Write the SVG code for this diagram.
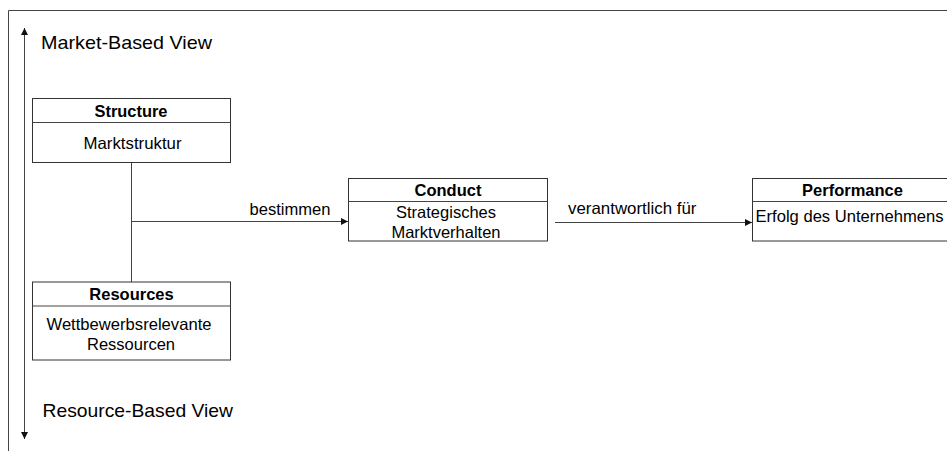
<svg xmlns="http://www.w3.org/2000/svg" width="947" height="451" viewBox="0 0 947 451">
<defs>
<style>
text{font-family:"Liberation Sans",Arial,sans-serif;fill:#000}
.h{font-size:19px}
.t{font-size:16.5px}
.b{font-size:16.5px;font-weight:bold}
.box{fill:#fff;stroke:#333;stroke-width:1}
.ln{stroke:#444;stroke-width:1;fill:none}
</style>
<marker id="ah" viewBox="0 0 10 10" refX="10" refY="5" markerWidth="7" markerHeight="7" markerUnits="userSpaceOnUse" orient="auto"><path d="M0,0L10,5L0,10z" fill="#111"/></marker>
</defs>
<rect width="947" height="451" fill="#fff"/>
<g id="frame">
<path class="ln" d="M8.5,451V10.5H947" stroke="#444"/>
</g>
<g id="axis">
<line class="ln" x1="24.5" y1="240" x2="24.5" y2="28" stroke="#222" marker-end="url(#ah)"/>
<line class="ln" x1="24.5" y1="240" x2="24.5" y2="439" stroke="#222" marker-end="url(#ah)"/>
<text class="h" x="41" y="48.5" textLength="171" lengthAdjust="spacingAndGlyphs">Market-Based View</text>
<text class="h" x="42.5" y="417" textLength="190.5" lengthAdjust="spacingAndGlyphs">Resource-Based View</text>
</g>
<g id="connectors">
<line class="ln" x1="131.5" y1="162" x2="131.5" y2="282"/>
<line class="ln" x1="131.5" y1="221.5" x2="348" y2="221.5" marker-end="url(#ah)"/>
<text class="t" x="249.5" y="215" textLength="81" lengthAdjust="spacingAndGlyphs">bestimmen</text>
<line class="ln" x1="555" y1="222.5" x2="752" y2="222.5" marker-end="url(#ah)"/>
<text class="t" x="568" y="214" textLength="128.5" lengthAdjust="spacingAndGlyphs">verantwortlich für</text>
</g>
<g id="structure">
<rect class="box" x="32.5" y="98.5" width="198" height="64"/>
<line class="ln" x1="32.5" y1="122.5" x2="230.5" y2="122.5"/>
<text class="b" x="131" y="117" text-anchor="middle" textLength="73" lengthAdjust="spacingAndGlyphs">Structure</text>
<text class="t" x="132.5" y="149" text-anchor="middle" textLength="98" lengthAdjust="spacingAndGlyphs">Marktstruktur</text>
</g>
<g id="resources">
<rect class="box" x="32.5" y="282" width="198" height="78"/>
<line class="ln" x1="32.5" y1="306" x2="230.5" y2="306"/>
<text class="b" x="131.5" y="299.5" text-anchor="middle">Resources</text>
<text class="t" x="129" y="330" text-anchor="middle" textLength="165" lengthAdjust="spacingAndGlyphs">Wettbewerbsrelevante</text>
<text class="t" x="131" y="350" text-anchor="middle">Ressourcen</text>
</g>
<g id="conduct">
<rect class="box" x="348.5" y="178.5" width="199" height="62.5"/>
<line class="ln" x1="348.5" y1="201.5" x2="547.5" y2="201.5"/>
<text class="b" x="448" y="196" text-anchor="middle">Conduct</text>
<text class="t" x="446" y="217.5" text-anchor="middle">Strategisches</text>
<text class="t" x="446" y="237.5" text-anchor="middle">Marktverhalten</text>
</g>
<g id="performance">
<rect class="box" x="752.5" y="178.5" width="200" height="62.5"/>
<line class="ln" x1="752.5" y1="201.5" x2="952" y2="201.5"/>
<text class="b" x="852.5" y="196" text-anchor="middle">Performance</text>
<text class="t" x="755.5" y="222" textLength="188" lengthAdjust="spacingAndGlyphs">Erfolg des Unternehmens</text>
</g>
</svg>
